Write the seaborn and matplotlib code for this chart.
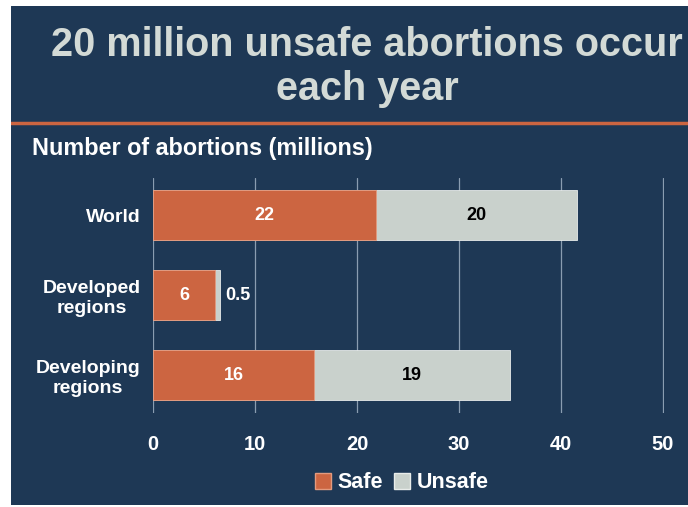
import matplotlib
matplotlib.use("Agg")
import matplotlib.pyplot as plt
import pandas as pd
import seaborn as sns
from matplotlib.patches import Patch

BG = "#1E3855"
ORANGE = "#CC6541"
GRAY = "#C9D1CC"

regions = ["World", "Developed\nregions", "Developing\nregions"]
safe = [21.9, 6.1, 15.8]
unsafe = [19.7, 0.5, 19.2]
safe_labels = ["22", "6", "16"]
unsafe_labels = ["20", "0.5", "19"]
x_ticks = [0, 10, 20, 30, 40, 50]

df = pd.DataFrame({"region": regions, "safe": safe, "unsafe": unsafe})
df["total"] = df["safe"] + df["unsafe"]

sns.set_style("white")
plt.rcParams["font.family"] = ["Liberation Sans", "DejaVu Sans"]

fig = plt.figure(figsize=(6.88, 5.07), dpi=100, facecolor="white")
# navy panel behind everything
panel = fig.add_axes([11 / 688, 0.003, 1 - 11 / 688, 1 - 6 / 507 - 0.003], zorder=-1)
panel.set_facecolor(BG)
panel.set_axis_off()
panel.add_patch(plt.Rectangle((0, 0), 1, 1, transform=panel.transAxes, color=BG))
# orange rule under title
panel.plot([0, 1], [1 - 117 / 501] * 2, color=ORANGE, lw=2.5, transform=panel.transAxes)

fig.text(367 / 688, 1 - 67 / 507, "20 million unsafe abortions occur\neach year", color="#D3DAD6",
         fontsize=28.5, fontweight="bold", ha="center", va="center", linespacing=1.22)
fig.text(32 / 688, 1 - 149 / 507, "Number of abortions (millions)", color="white",
         fontsize=16.8, fontweight="bold", ha="left", va="center")

ax = fig.add_axes([153 / 688, 1 - 413 / 507, 511 / 688, 235 / 507])
ax.set_facecolor(BG)

sns.barplot(data=df, x="total", y="region", color=GRAY, width=0.62, ax=ax,
            edgecolor="#E8ECEA", linewidth=0.6, saturation=1, zorder=3)
sns.barplot(data=df, x="safe", y="region", color=ORANGE, width=0.62, ax=ax,
            edgecolor="#E39A7E", linewidth=0.6, saturation=1, zorder=4)

for i in range(len(regions)):
    ax.text(safe[i] / 2, i, safe_labels[i], color="white", fontsize=13, fontweight="bold",
            ha="center", va="center", zorder=5)
    if unsafe[i] >= 2:
        ax.text(safe[i] + unsafe[i] / 2, i, unsafe_labels[i], color="black", fontsize=13,
                fontweight="bold", ha="center", va="center", zorder=5)
    else:
        ax.text(safe[i] + unsafe[i] + 0.5, i, unsafe_labels[i], color="white", fontsize=13,
                fontweight="bold", ha="left", va="center", zorder=5)

ax.set_xlim(0, 50.1)
ax.set_ylim(2.475, -0.4625)
ax.set_xticks(x_ticks)
ax.set_xticklabels([str(t) for t in x_ticks])
ax.xaxis.grid(True, color="#8A9DB1", linewidth=0.9)
ax.set_axisbelow(True)
for s in ax.spines.values():
    s.set_visible(False)
ax.tick_params(axis="x", length=0, pad=16, labelcolor="white", labelsize=14.5)
ax.tick_params(axis="y", length=0, pad=9, labelcolor="white", labelsize=14)
for lab in ax.get_xticklabels() + ax.get_yticklabels():
    lab.set_fontweight("bold")
for lab in ax.get_yticklabels():
    lab.set_multialignment("center")
ax.set_xlabel("")
ax.set_ylabel("")

handles = [Patch(facecolor=ORANGE, edgecolor="#E39A7E", label="Safe"),
           Patch(facecolor=GRAY, edgecolor="#E8ECEA", label="Unsafe")]
leg = fig.legend(handles=handles, loc="center", bbox_to_anchor=(402 / 688, 1 - 483 / 507),
                 ncol=2, frameon=False, handlelength=0.75, handleheight=0.75, handletextpad=0.3,
                 columnspacing=0.5, prop={"size": 15.5, "weight": "bold"})
for t in leg.get_texts():
    t.set_color("white")

fig.savefig("out.png", dpi=100, facecolor="white")
